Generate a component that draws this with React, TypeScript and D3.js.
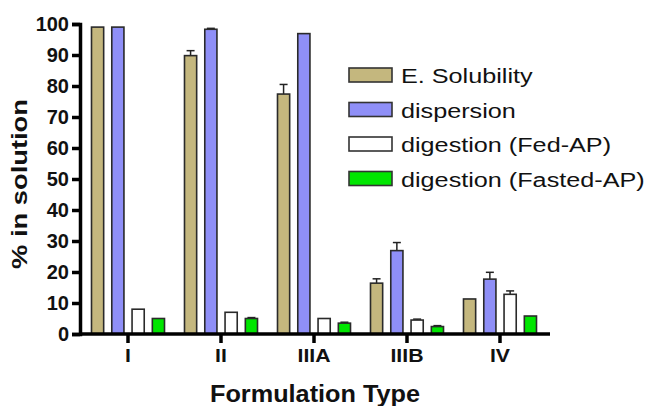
import React, { useEffect, useRef } from 'react';
import * as d3 from 'd3';

const categories = ['I', 'II', 'IIIA', 'IIIB', 'IV'];
const seriesNames = ['E. Solubility', 'dispersion', 'digestion (Fed-AP)', 'digestion (Fasted-AP)'];
const seriesColors = ['#c4b77e', '#8f8ff7', '#ffffff', '#00e600'];
const solubility = [99, 89.8, 77.4, 16.4, 11.3];
const solubilityErr = [0, 1.6, 3.1, 1.4, 0];
const dispersion = [99, 98.3, 96.9, 26.9, 17.7];
const dispersionErr = [0, 0.3, 0, 2.6, 2.2];
const fedDigestion = [8, 7, 5, 4.5, 12.8];
const fedErr = [0, 0, 0, 0.3, 1.1];
const fastedDigestion = [5, 5, 3.5, 2.4, 5.8];
const fastedErr = [0, 0.3, 0.3, 0.3, 0];
const yTicks = [0, 10, 20, 30, 40, 50, 60, 70, 80, 90, 100];

const App = () => {
  const ref = useRef<SVGSVGElement>(null);

  useEffect(() => {
    const svg = d3.select(ref.current);
    svg.selectAll('*').remove();

    const left = 80, right = 550, top = 24, bottom = 334;
    const font = 'Liberation Sans, Arial, sans-serif';

    const x = d3.scaleBand().domain(categories).range([82.2, 545.8]).paddingInner(0.215).paddingOuter(0.1);
    const inner = d3.scaleBand().domain(seriesNames).range([0, x.bandwidth()]).paddingInner(0.4);
    const y = d3.scaleLinear().domain([0, 100]).range([bottom, top]);

    const values = [solubility, dispersion, fedDigestion, fastedDigestion];
    const errs = [solubilityErr, dispersionErr, fedErr, fastedErr];

    const g = svg.append('g');
    categories.forEach((c, ci) => {
      seriesNames.forEach((s, si) => {
        const v = values[si][ci];
        const e = errs[si][ci];
        const bx = x(c)! + inner(s)!;
        const cx = bx + inner.bandwidth() / 2;
        if (e > 0) {
          g.append('line')
            .attr('x1', cx).attr('x2', cx)
            .attr('y1', y(v)).attr('y2', y(v + e))
            .attr('stroke', '#222').attr('stroke-width', 1.5);
          g.append('line')
            .attr('x1', cx - 4).attr('x2', cx + 4)
            .attr('y1', y(v + e)).attr('y2', y(v + e))
            .attr('stroke', '#222').attr('stroke-width', 1.5);
        }
        g.append('rect')
          .attr('x', bx).attr('y', y(v))
          .attr('width', inner.bandwidth()).attr('height', y(0) - y(v))
          .attr('fill', seriesColors[si])
          .attr('stroke', '#2a2a2a').attr('stroke-width', 1.6);
      });
    });

    // y axis
    const ya = svg.append('g')
      .attr('transform', `translate(${left},0)`)
      .call(d3.axisLeft(y).tickValues(yTicks).tickSize(8).tickPadding(3));
    ya.select('.domain').attr('stroke', '#000').attr('stroke-width', 3.5);
    ya.selectAll('.tick line').attr('stroke', '#000').attr('stroke-width', 3.5);
    ya.selectAll('.tick text')
      .attr('font-family', font).attr('font-weight', 'bold').attr('font-size', 20).attr('fill', '#111');

    // x axis
    const xa = svg.append('g')
      .attr('transform', `translate(0,${bottom})`)
      .call(d3.axisBottom(x).tickSize(9).tickSizeOuter(0).tickPadding(6));
    xa.select('.domain').attr('stroke', '#000').attr('stroke-width', 3.5).attr('d', `M${left},0H${right}`);
    xa.selectAll('.tick line').attr('stroke', '#000').attr('stroke-width', 3.5);
    xa.selectAll('.tick text')
      .attr('font-family', font).attr('font-weight', 'bold').attr('font-size', 19).attr('fill', '#111')
      .attr('transform', 'scale(1.12,1)');

    svg.append('text')
      .attr('transform', 'translate(27,184) rotate(-90)')
      .attr('text-anchor', 'middle')
      .attr('font-family', font).attr('font-weight', 'bold').attr('font-size', 22).attr('fill', '#111')
      .attr('textLength', 170).attr('lengthAdjust', 'spacingAndGlyphs')
      .text('% in solution');

    svg.append('text')
      .attr('x', 315).attr('y', 402)
      .attr('text-anchor', 'middle')
      .attr('font-family', font).attr('font-weight', 'bold').attr('font-size', 23).attr('fill', '#111')
      .attr('textLength', 210).attr('lengthAdjust', 'spacingAndGlyphs')
      .text('Formulation Type');

    // legend
    const lg = svg.append('g').attr('transform', 'translate(349,68)');
    seriesNames.forEach((s, i) => {
      const row = lg.append('g').attr('transform', `translate(0,${i * 34.5})`);
      row.append('rect')
        .attr('width', 43).attr('height', 14)
        .attr('fill', seriesColors[i])
        .attr('stroke', '#333').attr('stroke-width', 1.6);
      row.append('text')
        .attr('transform', 'translate(52,15) scale(1.2,1)')
        .attr('font-family', font).attr('font-size', 21).attr('fill', '#111')
        .text(s);
    });
  }, []);

  return (
    <svg ref={ref} width={650} height={406} style={{ position: 'absolute', left: 0, top: 0, background: '#fff' }} />
  );
};

export default App;
